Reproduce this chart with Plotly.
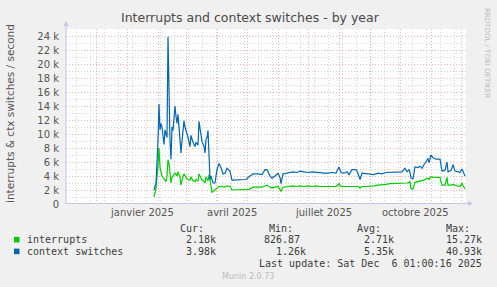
import plotly.graph_objects as go
import pandas as pd

# ---------------- data ----------------
dates = [
    "2025-01-28", "2025-01-30", "2025-02-01", "2025-02-02", "2025-02-03", "2025-02-04",
    "2025-02-05", "2025-02-06", "2025-02-07", "2025-02-08", "2025-02-09", "2025-02-10",
    "2025-02-11", "2025-02-12", "2025-02-13", "2025-02-14", "2025-02-15", "2025-02-16",
    "2025-02-17", "2025-02-18", "2025-02-19", "2025-02-20", "2025-02-21", "2025-02-22",
    "2025-02-23", "2025-02-24", "2025-02-25", "2025-02-26", "2025-02-27", "2025-02-28",
    "2025-03-01", "2025-03-03", "2025-03-05", "2025-03-06", "2025-03-08", "2025-03-10",
    "2025-03-11", "2025-03-13", "2025-03-14", "2025-03-15", "2025-03-17", "2025-03-19",
    "2025-03-20", "2025-03-21", "2025-03-22", "2025-03-23", "2025-03-24", "2025-03-25",
    "2025-03-26", "2025-03-27", "2025-03-28", "2025-03-30", "2025-04-01", "2025-04-03",
    "2025-04-05", "2025-04-07", "2025-04-09", "2025-04-11", "2025-04-13", "2025-04-14",
    "2025-04-16", "2025-04-24", "2025-04-30", "2025-05-03", "2025-05-07", "2025-05-12",
    "2025-05-16", "2025-05-19", "2025-05-21", "2025-05-24", "2025-05-26", "2025-05-29",
    "2025-06-01", "2025-06-03", "2025-06-04", "2025-06-06", "2025-06-10", "2025-06-13",
    "2025-06-16", "2025-06-20", "2025-06-23", "2025-06-27", "2025-07-01", "2025-07-05",
    "2025-07-09", "2025-07-13", "2025-07-17", "2025-07-21", "2025-07-25", "2025-07-29",
    "2025-08-01", "2025-08-03", "2025-08-06", "2025-08-09", "2025-08-11", "2025-08-14",
    "2025-08-18", "2025-08-20", "2025-08-22", "2025-08-24", "2025-08-28", "2025-09-01",
    "2025-09-05", "2025-09-09", "2025-09-13", "2025-09-17", "2025-09-21", "2025-09-25",
    "2025-09-29", "2025-10-03", "2025-10-06", "2025-10-08", "2025-10-10", "2025-10-11",
    "2025-10-12", "2025-10-14", "2025-10-16", "2025-10-19", "2025-10-21", "2025-10-23",
    "2025-10-25", "2025-10-27", "2025-10-29", "2025-10-30", "2025-11-01", "2025-11-03",
    "2025-11-06", "2025-11-10", "2025-11-12", "2025-11-15", "2025-11-17", "2025-11-18",
    "2025-11-21", "2025-11-23", "2025-11-25", "2025-11-28", "2025-11-30", "2025-12-02",
    "2025-12-03", "2025-12-05",
]

context_switches = [
    2000, 3000, 9000, 14300, 10600, 11500,
    11000, 9200, 8500, 10600, 10000, 9500,
    23900, 16000, 9000, 6400, 11000, 10500,
    12000, 14000, 12500, 11500, 12800, 10500,
    9500, 7300, 9000, 11000, 11900, 11000,
    10600, 9500, 8200, 9800, 8800, 8200,
    8800, 8400, 11800, 11000, 8900, 8200,
    7300, 9200, 9500, 10500, 7500, 3500,
    4000, 3200, 3000, 3000, 4900, 5800,
    5200, 4300, 4400, 5100, 4900, 4700,
    3400, 3400, 3500, 3900, 4300, 4300,
    4200, 4900, 4900, 4000, 3700, 4000,
    4400, 3800, 2900, 4300, 4400, 4500,
    4600, 4500, 4700, 4600, 4500, 4600,
    4500, 4500, 4400, 4400, 4500, 4400,
    5300, 4500, 4400, 4600, 4200, 4900,
    4900, 4400, 3500, 4400, 4300, 4300,
    4200, 4400, 4300, 4500, 4500, 4600,
    4500, 4600, 5100, 4600, 4900, 4500,
    3700, 3600, 5300, 5200, 5400, 5100,
    5600, 6000, 6500, 5900, 7000, 6600,
    6400, 6400, 4700, 4800, 6000, 4600,
    4800, 5600, 4700, 4600, 4500, 5000,
    4600, 3980,
]

interrupts = [
    1000, 2200, 5500, 8000, 5200, 4400,
    4000, 3800, 3600, 3500, 3200, 4000,
    6300, 5800, 4200, 3000, 3800, 4000,
    4200, 4400, 4300, 4000, 4600, 4200,
    3800, 2700, 3600, 4000, 4300, 4000,
    3800, 3500, 3400, 3900, 3300, 3200,
    3500, 3300, 4300, 4000, 3400, 3300,
    3000, 3900, 3600, 3300, 4200, 3200,
    2400, 1700, 1800, 2000, 2300, 2500,
    2500, 2400, 2400, 2600, 2500, 2500,
    2000, 2000, 2000, 2100, 2400, 2400,
    2400, 2600, 2700, 2400, 2300, 2400,
    2500, 2100, 1800, 2400, 2500, 2500,
    2600, 2500, 2600, 2500, 2600, 2500,
    2600, 2500, 2500, 2500, 2600, 2500,
    2900, 2500, 2500, 2500, 2400, 2500,
    2500, 2500, 2300, 2500, 2500, 2500,
    2600, 2700, 2700, 2800, 2900, 2900,
    2900, 3000, 3000, 3000, 3100, 3200,
    2200, 2100, 3100, 3200, 3200, 3300,
    3400, 3600, 3700, 3500, 3900, 3800,
    3800, 3800, 2700, 2700, 3800, 2700,
    2700, 2800, 2700, 2600, 2500, 3000,
    2600, 2180,
]

series_names = ["interrupts", "context switches"]
series_colors = ["#00CC00", "#0066B3"]

y_tick_values = [0, 2000, 4000, 6000, 8000, 10000, 12000, 14000, 16000, 18000, 20000, 22000, 24000]
y_tick_labels = ["0", "2 k", "4 k", "6 k", "8 k", "10 k", "12 k", "14 k", "16 k", "18 k", "20 k", "22 k", "24 k"]
y_minor_values = [1000, 3000, 5000, 7000, 9000, 11000, 13000, 15000, 17000, 19000, 21000, 23000]

x_label_dates = ["2025-01-16", "2025-04-16", "2025-07-16", "2025-10-16"]
x_labels = ["janvier 2025", "avril 2025", "juillet 2025", "octobre 2025"]
x_range = ["2024-11-01", "2025-12-06"]

legend_cur = ["2.18k", "3.98k"]
legend_min = ["826.87\u00a0", "1.26k"]
legend_avg = ["2.71k", "5.35k"]
legend_max = ["15.27k", "40.93k"]

title_text = "Interrupts and context switches - by year"
y_title = "interrupts &amp; ctx switches / second"
last_update = "Last update: Sat Dec \u00a06 01:00:16 2025"
footer = "Munin 2.0.73"
side_text = "RRDTOOL / TOBI OETIKER"

# ---------------- layout helpers ----------------
W, H = 497, 287
L, R, T, B = 66, 466, 29, 204


def px(x):
    return (x - L) / (R - L)


def py(y):
    return (B - y) / (B - T)


month_starts = pd.date_range("2024-12-01", "2025-12-01", freq="MS")
minor_x = pd.date_range("2024-11-11", "2025-12-06", freq="14D")

fig = go.Figure()
for name, vals, col in zip(series_names, [interrupts, context_switches], series_colors):
    fig.add_trace(go.Scatter(x=pd.to_datetime(dates), y=vals, mode="lines", name=name,
                             line=dict(color=col, width=1.2), showlegend=False))

MAJ = "rgba(225,130,130,0.6)"
MIN = "rgba(200,200,200,0.75)"
AX = "#C4C4EE"

fig.update_layout(
    width=W, height=H,
    margin=dict(l=L, r=W - R, t=T, b=H - B, pad=0),
    paper_bgcolor="#F0F0F0", plot_bgcolor="#FFFFFF",
    font=dict(family="DejaVu Sans", size=10, color="#555555"),
    xaxis=dict(range=x_range, type="date", showline=False, zeroline=False,
               tickmode="array", tickvals=list(month_starts), ticktext=[""] * len(month_starts),
               showgrid=True, gridcolor=MAJ, griddash="1px,2px", gridwidth=1,
               ticks="", showticklabels=False,
               minor=dict(tickmode="array", tickvals=list(minor_x), showgrid=True,
                          gridcolor=MIN, griddash="1px,2px", gridwidth=1)),
    yaxis=dict(range=[0, 25000], showline=False, zeroline=False,
               tickmode="array", tickvals=y_tick_values, ticktext=y_tick_labels,
               showgrid=True, gridcolor=MAJ, griddash="1px,2px", gridwidth=1,
               ticks="", ticklabelstandoff=6,
               tickfont=dict(family="DejaVu Sans", size=10, color="#555555"),
               minor=dict(tickmode="array", tickvals=y_minor_values, showgrid=True,
                          gridcolor=MIN, griddash="1px,2px", gridwidth=1)),
)

shapes = []
# axis lines with arrows
shapes.append(dict(type="line", xref="paper", yref="paper", x0=px(66), x1=px(66), y0=py(204), y1=py(25),
                   line=dict(color=AX, width=1)))
shapes.append(dict(type="path", xref="paper", yref="paper",
                   path=f"M {px(63.5)} {py(26)} L {px(68.5)} {py(26)} L {px(66)} {py(21)} Z",
                   fillcolor=AX, line=dict(width=0)))
shapes.append(dict(type="line", xref="paper", yref="paper", x0=px(66), x1=px(469), y0=py(203.5), y1=py(203.5),
                   line=dict(color=AX, width=1)))
shapes.append(dict(type="path", xref="paper", yref="paper",
                   path=f"M {px(468)} {py(201)} L {px(468)} {py(206)} L {px(473)} {py(203.5)} Z",
                   fillcolor=AX, line=dict(width=0)))
# legend colour boxes
for i, col in enumerate(series_colors):
    yc = 239.7 + i * 11.7
    shapes.append(dict(type="rect", xref="paper", yref="paper",
                       x0=px(14), x1=px(19.5), y0=py(yc + 2.8), y1=py(yc - 2.8),
                       fillcolor=col, line=dict(width=0)))
fig.update_layout(shapes=shapes)

ann = []
# title
ann.append(dict(text=title_text, xref="paper", yref="paper", x=px(250), y=py(18), xanchor="center",
                yanchor="middle", showarrow=False, font=dict(family="DejaVu Sans", size=12.5, color="#4A4A4A")))
# y title
ann.append(dict(text=y_title, xref="paper", yref="paper", x=px(10), y=py(114), textangle=-90,
                xanchor="center", yanchor="middle", showarrow=False,
                font=dict(family="DejaVu Sans", size=10.5, color="#555555")))
# side text
ann.append(dict(text=side_text, xref="paper", yref="paper", x=px(487), y=py(53), textangle=90,
                xanchor="center", yanchor="middle", showarrow=False,
                font=dict(family="DejaVu Sans", size=7, color="#BBBBBB")))
# x labels
for d, t in zip(x_label_dates, x_labels):
    ann.append(dict(text=t, xref="x", yref="paper", x=d, y=py(212), xanchor="center", yanchor="middle",
                    showarrow=False, font=dict(family="DejaVu Sans", size=10, color="#555555")))

mono = dict(family="DejaVu Sans Mono", size=10, color="#3C3C3C")


def txt(s, x, y, anchor="right", font=mono):
    ann.append(dict(text=s, xref="paper", yref="paper", x=px(x), y=py(y), xanchor=anchor,
                    yanchor="middle", showarrow=False, font=font, borderpad=0))


for h, xr in zip(["Cur:", "Min:", "Avg:", "Max:"], [204.5, 293.5, 381.5, 470.5]):
    txt(h, xr, 228.5)
for i in range(2):
    yr = 239.7 + i * 11.7
    txt(series_names[i], 26, yr, anchor="left")
    txt(legend_cur[i], 216.5, yr)
    txt(legend_min[i], 306.5, yr)
    txt(legend_avg[i], 394.5, yr)
    txt(legend_max[i], 483, yr)
txt(last_update, 483, 263.5)
txt(footer, 248, 276.5, anchor="center", font=dict(family="DejaVu Sans", size=8, color="#BBBBBB"))

fig.update_layout(annotations=ann)
fig.write_html("out.html")
